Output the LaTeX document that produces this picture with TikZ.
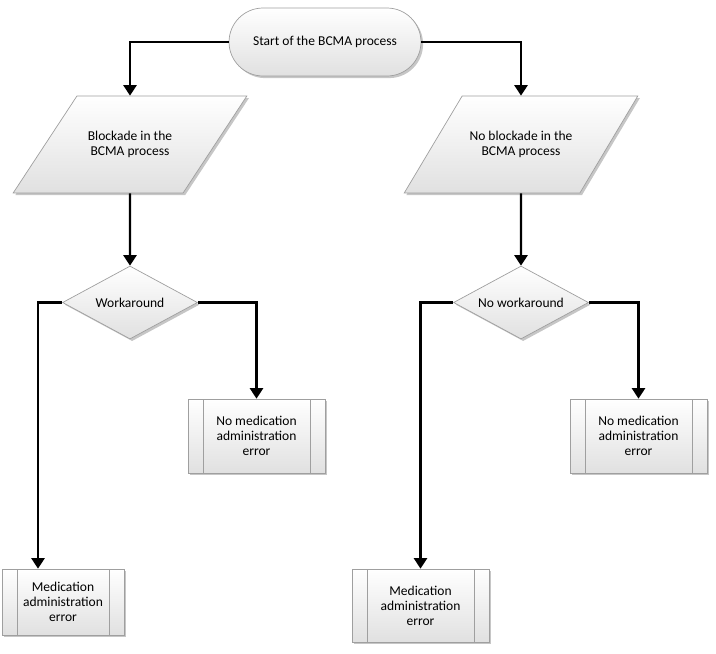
\documentclass[tikz,border=0pt]{standalone}
\usepackage{fontspec}
\setmainfont{Carlito}
\usetikzlibrary{shapes.geometric,shadows,arrows.meta}

\begin{document}
\begin{tikzpicture}[x=0.02cm, y=-0.02cm,
  font=\fontsize{7.7}{8.6}\selectfont,
  fcbox/.style={draw=gray!75, line width=0.4pt, top color=white, bottom color=gray!24,
    drop shadow={shadow xshift=1.2pt, shadow yshift=-1.2pt, opacity=0.45, fill=gray},
    align=center, inner sep=0pt},
  startstop/.style={fcbox, rectangle, rounded corners=0.68cm, minimum width=3.84cm, minimum height=1.36cm},
  io/.style={fcbox, trapezium, trapezium left angle=62, trapezium right angle=118,
    trapezium stretches=true, inner ysep=19.5pt, minimum width=4.68cm, minimum height=1.94cm},
  decision/.style={fcbox, diamond, shape aspect=2, minimum width=2.7cm, minimum height=1.46cm},
  predef/.style={fcbox, rectangle, path picture={
    \draw[gray!75] ([xshift=0.3cm]path picture bounding box.north west) -- ([xshift=0.3cm]path picture bounding box.south west)
      ([xshift=-0.3cm]path picture bounding box.north east) -- ([xshift=-0.3cm]path picture bounding box.south east);}},
  flow/.style={-{Triangle[length=6pt,width=7.5pt]}, line width=1.2pt}]
\useasboundingbox (0,0) rectangle (716,653);
% top of the chart
\node[startstop] (start) at (325,42) {Start of the BCMA process};
\node[io] (blk) at (130,144.5) {Blockade in the\\BCMA process};
\node[io] (noblk) at (521,144.5) {No blockade in the\\BCMA process};
% decisions
\node[decision] (wa) at (130,302.5) {Workaround};
\node[decision] (nowa) at (521,302.5) {No workaround};
% outcomes
\node[predef, minimum width=2.74cm, minimum height=1.48cm] (nomae1) at (256.5,436) {No medication\\administration\\error};
\node[predef, minimum width=2.74cm, minimum height=1.48cm] (nomae2) at (638.5,436) {No medication\\administration\\error};
\node[predef, minimum width=2.44cm, minimum height=1.32cm] (mae1) at (63,602) {Medication\\administration\\error};
\node[predef, minimum width=2.74cm, minimum height=1.46cm] (mae2) at (420.5,605.5) {Medication\\administration\\error};
% connectors
\draw[flow] (start.west) -| (blk.north);
\draw[flow] (start.east) -| (noblk.north);
\draw[flow] (blk.south) -- (wa.north);
\draw[flow] (noblk.south) -- (nowa.north);
\draw[flow] (wa.west) -| ([xshift=-0.5cm]mae1.north);
\draw[flow] (wa.east) -| (nomae1.north);
\draw[flow] (nowa.west) -| (mae2.north);
\draw[flow] (nowa.east) -| (nomae2.north);
\end{tikzpicture}
\end{document}
